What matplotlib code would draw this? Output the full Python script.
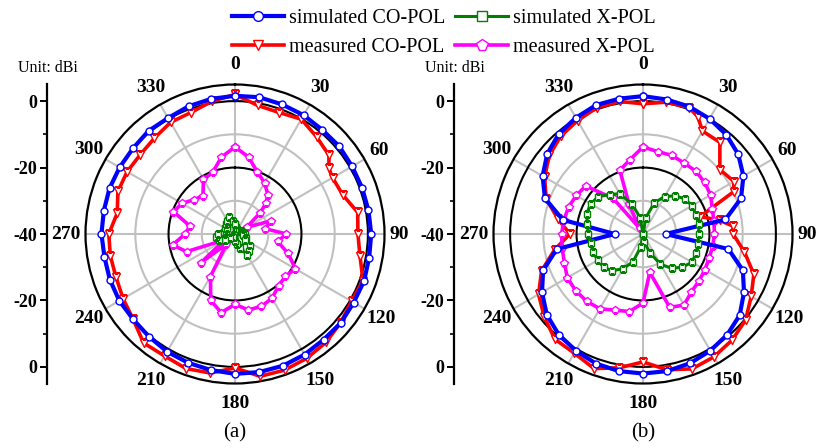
import numpy as np
import matplotlib
matplotlib.use('Agg')
import matplotlib.pyplot as plt

plt.rcParams['font.family'] = ['Liberation Serif', 'DejaVu Serif']

# ---- data (dBi) ----
ang10 = list(range(0, 360, 10))

# (a)
a_sim_co = [1.6, 1.8, 1.5, 1.3, 0.9, 1.0, 0.7, 0.7, 0.8, 1.0, 1.0, 1.35, 1.25, 1.6, 1.5, 1.9, 2.2, 2.2,
            2.1, 1.6, 1.25, 0.9, 0.3, 0.0, 0.2, 0.1, -0.1, 0.2, 0.1, 0.2, 0.1, 0.1, 0.5, 0.3, 0.9, 1.3]
a_sim_x = [-37, -38, -38.5, -39, -39, -38.5, -38, -37.9, -37.5, -37, -37.5, -36.5, -36.5, -34.3, -33.5,
           -32.8, -35.5, -37, -38, -39, -39.5, -39.5, -39, -38, -36.5, -35, -34.3, -35, -36.6, -37,
           -36.6, -37, -36, -35.4, -34.5, -36]
a_meas_co_ang = [0, 10, 20, 30, 40, 50, 55, 60, 70, 80, 90, 100, 110, 120, 130, 140, 150, 160, 170, 180,
                 190, 200, 210, 220, 230, 240, 250, 260, 270, 280, 290, 300, 310, 320, 330, 340, 350]
a_meas_co = [2.0, -0.7, -1.1, -0.1, -1.8, -3.1, -5.5, -6.1, -5.5, -2.5, -3.0, -1.8, 1.0, 0.5, 1.5, 2.6,
             3.2, 3.6, 3.5, 0.3, 2.5, 3.1, 2.4, 2.8, 0.0, -1.1, -1.9, -1.9, -2.0, -4.0, -2.5, -2.5, -2.8,
             -2.3, -1.2, -1.1, 0.5]
a_meas_x_ang = [0, 10, 20, 30, 40, 45, 50, 60, 70, 80, 90, 100, 110, 120, 130, 140, 150, 160, 170, 180,
                190, 200, 210, 220, 230, 240, 250, 260, 270, 280, 290, 300, 310, 320, 330, 340, 350]
a_meas_x = [-13.8, -16.5, -20.2, -22.2, -24.6, -26.8, -30, -36, -28.4, -30.8, -24.5, -27, -23, -19, -20.2,
            -19.6, -17.7, -16.8, -16.8, -18.8, -16, -18.7, -25.2, -36, -26.6, -36.5, -24.5, -20.9, -25,
            -26.2, -20.3, -21.6, -23.9, -25, -21, -20.3, -16.5]

# (b)
b_sim_co = [1.5, 1.1, 0.8, 0.05, -1.0, -2.6, -5.1, -8.6, -14.8, -33.2, -13.9, -8.0, -4.9, -2.0, -0.5, 0.55,
            1.4, 1.9, 2.0, 1.9, 1.5, 0.5, -0.5, -2.2, -4.9, -8.0, -13.6, -31.5, -15.5, -8.6, -5.1, -2.4,
            -0.6, 0.4, 1.3, 1.35]
b_sim_x = [-40, -35, -30, -27, -25, -23.5, -23, -23, -23, -23.2, -23.2, -23, -23, -24.5, -26.5, -29.5,
           -34, -37.5, -40, -36, -31, -28, -25.5, -24.5, -24.3, -24, -24, -23.5, -23, -22, -21.8, -22.5,
           -24.5, -26, -30.5, -35]
b_meas_co_ang = [0, 10, 20, 25, 30, 40, 50, 60, 65, 73, 80, 85, 90, 100, 110, 120, 130, 140, 150, 160,
                 170, 180, 190, 200, 210, 220, 230, 240, 250, 260, 270, 280, 290, 300, 310, 320, 330,
                 340, 350]
b_meas_co = [-0.8, 0.3, 0.5, -1.0, -4.2, -4.0, -9.8, -8.4, -9.9, -22, -16.5, -12.8, -12.9, -9, -4.5, -2.4,
             0.3, 1.7, 2.7, 3.2, 1.5, -1.5, 0.9, 3.1, 1.4, 1.3, -1.2, -3.7, -7.5, -13, -18, -14, -9,
             -5.8, -3.2, -1.5, -0.6, 0.5, 0.5]
b_meas_x_ang = [0, 10, 20, 30, 40, 50, 60, 70, 80, 90, 100, 110, 120, 130, 140, 150, 160, 170, 180, 190,
                200, 210, 220, 230, 240, 250, 260, 270, 280, 290, 300, 310, 320, 330, 335, 340, 350]
b_meas_x = [-13.8, -14.8, -14.8, -15.3, -15.3, -15.8, -16.5, -17.8, -18.3, -18.5, -18.7, -18.8, -18.5, -18,
            -17.3, -15.3, -16.5, -28.3, -19.2, -16.3, -15.6, -14, -13.6, -13.5, -13.7, -14.8, -15.3,
            -15.5, -15.8, -16.2, -16.8, -17.5, -26, -38, -30, -19.6, -17.3]

theta_ticks = list(range(0, 360, 30))
r_ticks = [-40, -20, 0, 20, 40]
r_tick_labels = ['0', '-20', '-40', '-20', '0']
RMIN, RMAX = -40, 5


def closed(ang, val):
    t = np.deg2rad(list(ang) + [ang[0] + 360])
    return t, list(val) + [val[0]]


fig = plt.figure(figsize=(8.2, 4.48), dpi=100)

W, H = 299 / 820, 299 / 448
bottom = (448 - 234 - 149.5) / 448


def panel(cx, axis_x, unit_x, tag, sim_co, meas_co_ang, meas_co, sim_x, meas_x_ang, meas_x):
    ax = fig.add_axes([(cx - 149.5) / 820, bottom, W, H], projection='polar')
    ax.set_theta_zero_location('N')
    ax.set_theta_direction(-1)
    ax.set_rlim(RMIN, RMAX)
    ax.set_axisbelow(True)
    ax.set_thetagrids(theta_ticks, labels=[])
    ax.set_rgrids([-30, -20, -10, 0], labels=[])
    ax.tick_params(axis='both', length=0)
    for g in ax.xaxis.get_gridlines():
        g.set_color('#c0c0c0')
        g.set_linewidth(1.5)
        g.set_linestyle('-')
    for g, v in zip(ax.yaxis.get_gridlines(), [-30, -20, -10, 0]):
        g.set_linestyle('-')
        g.set_linewidth(1.5)
        g.set_color('black' if v in (-20, 0) else '#c0c0c0')
    ax.spines['polar'].set_linewidth(1.6)

    t, v = closed(meas_co_ang, meas_co)
    l2, = ax.plot(t, v, color='red', lw=2.6, marker='v', ms=5.5, mfc='white', mec='red', mew=1,
                  label='measured CO-POL', zorder=3)
    t, v = closed(ang10, sim_co)
    l1, = ax.plot(t, v, color='blue', lw=3, marker='o', ms=5, mfc='white', mec='blue', mew=1,
                  label='simulated CO-POL', zorder=4)
    t, v = closed(meas_x_ang, meas_x)
    l4, = ax.plot(t, v, color='magenta', lw=2.6, marker='p', ms=6, mfc='white', mec='magenta', mew=1,
                  label='measured X-POL', zorder=3)
    t, v = closed(ang10, sim_x)
    l3, = ax.plot(t, v, color='green', lw=2.2, marker='s', ms=5, mfc='white', mec='green', mew=1,
                  label='simulated X-POL', zorder=5)

    for a in theta_ticks:
        r = {90: 0.551, 60: 0.556}.get(a, 0.566)
        ax.text(0.5 + r * np.sin(np.deg2rad(a)), 0.5 + r * np.cos(np.deg2rad(a)), str(a),
                transform=ax.transAxes, ha='center', va='center', fontsize=14, fontweight='bold')

    rax = fig.add_axes([axis_x / 820, bottom, 0.0001, H])
    rax.set_ylim(-45, 45)
    rax.patch.set_visible(False)
    for s in ['top', 'right', 'bottom']:
        rax.spines[s].set_visible(False)
    rax.spines['left'].set_linewidth(1.6)
    rax.set_xticks([])
    rax.set_yticks(r_ticks)
    rax.set_yticklabels(r_tick_labels, fontsize=13, fontweight='bold')
    rax.set_yticks([-30, -10, 10, 30], minor=True)
    rax.tick_params(axis='y', which='major', length=5, width=1.4, pad=2)
    rax.tick_params(axis='y', which='minor', length=3, width=1.2)

    fig.text(unit_x / 820, 1 - 68 / 448, 'Unit: dBi', fontsize=11.5, ha='left', va='center')
    fig.text(cx / 820, 1 - 433 / 448, tag, fontsize=15, ha='center', va='center')
    return [l1, l2, l3, l4]


handles = panel(235, 46.7, 18, '(a)', a_sim_co, a_meas_co_ang, a_meas_co, a_sim_x, a_meas_x_ang, a_meas_x)
panel(643, 454, 425, '(b)', b_sim_co, b_meas_co_ang, b_meas_co, b_sim_x, b_meas_x_ang, b_meas_x)

fig.legend(handles, [h.get_label() for h in handles], loc='upper center', bbox_to_anchor=(0.541, 1.012),
           ncol=2, frameon=False, fontsize=14.5, handlelength=2.6, handletextpad=0.25,
           columnspacing=0.5, labelspacing=0.5, numpoints=1, markerscale=1.4, borderpad=0.2)

fig.savefig('out.png', dpi=100)
